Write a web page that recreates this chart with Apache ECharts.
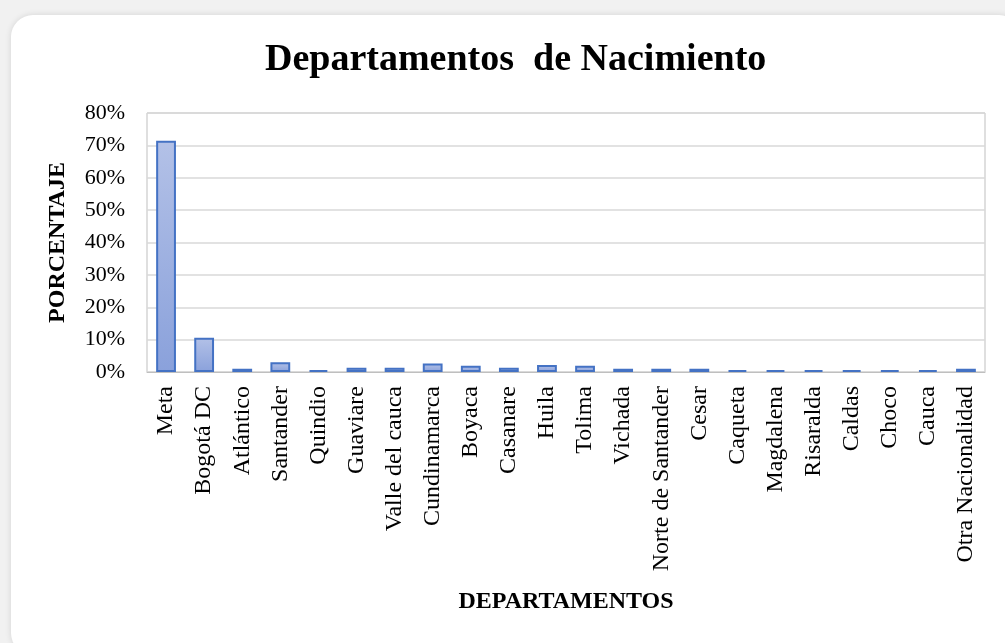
<!DOCTYPE html>
<html>
<head>
<meta charset="utf-8">
<title>Departamentos de Nacimiento</title>
<script src="https://cdn.jsdelivr.net/npm/echarts@6/dist/echarts.min.js"></script>
<style>
  html, body { margin: 0; padding: 0; background: #f1f1f1; }
  .card {
    position: absolute; left: 11px; top: 15px; width: 1010px; height: 640px;
    background: #fff; border-radius: 22px;
    box-shadow: 0 0 6px rgba(0, 0, 0, 0.12);
  }
  #chart { position: absolute; left: 0; top: 0; width: 1005px; height: 643px; }
</style>
</head>
<body>
<div class="card"></div>
<div id="chart"></div>
<script>
// departamentos y porcentaje de nacimiento
const departamentos = [
  'Meta', 'Bogotá DC', 'Atlántico', 'Santander', 'Quindio', 'Guaviare',
  'Valle del cauca', 'Cundinamarca', 'Boyaca', 'Casanare', 'Huila', 'Tolima',
  'Vichada', 'Norte de Santander', 'Cesar', 'Caqueta', 'Magdalena', 'Risaralda',
  'Caldas', 'Choco', 'Cauca', 'Otra Nacionalidad'
];
const porcentajes = [
  71.4, 10.6, 1.0, 3.0, 0.6, 1.3,
  1.3, 2.6, 1.9, 1.3, 2.2, 1.9,
  1.0, 1.0, 1.0, 0.6, 0.6, 0.6,
  0.6, 0.6, 0.6, 1.0
];
const yTicks = [0, 10, 20, 30, 40, 50, 60, 70, 80];

const serif = '"Liberation Serif", "Times New Roman", serif';
const chart = echarts.init(document.getElementById('chart'));

chart.setOption({
  backgroundColor: 'transparent',
  title: {
    text: 'Departamentos  de Nacimiento',
    left: 260,
    top: 36,
    textStyle: { fontFamily: serif, fontSize: 38, fontWeight: 'bold', color: '#000' }
  },
  grid: { left: 147, right: 20, top: 113, bottom: 271, show: true, borderColor: '#bfbfbf', borderWidth: 1 },
  xAxis: {
    type: 'category',
    data: departamentos,
    name: 'DEPARTAMENTOS',
    nameLocation: 'middle',
    nameGap: 218,
    nameTextStyle: { fontFamily: serif, fontSize: 24, fontWeight: 'bold', color: '#000' },
    axisLine: { lineStyle: { color: '#bfbfbf' } },
    axisTick: { show: false },
    axisLabel: { rotate: 90, interval: 0, margin: 14, fontFamily: serif, fontSize: 24, color: '#000' }
  },
  yAxis: {
    type: 'value',
    min: yTicks[0],
    max: yTicks[yTicks.length - 1],
    interval: 10,
    name: 'PORCENTAJE',
    nameLocation: 'middle',
    nameRotate: 90,
    nameGap: 77,
    nameTextStyle: { fontFamily: serif, fontSize: 24, fontWeight: 'bold', color: '#000' },
    axisLine: { show: false },
    axisTick: { show: false },
    splitLine: { lineStyle: { color: '#d9d9d9', width: 1.5 } },
    axisLabel: { margin: 22, fontFamily: serif, fontSize: 22, color: '#000', formatter: '{value}%' }
  },
  series: [{
    type: 'bar',
    data: porcentajes,
    barCategoryGap: '48%',
    itemStyle: {
      borderColor: '#4472c4',
      borderWidth: 2,
      color: new echarts.graphic.LinearGradient(0, 0, 0, 1, [
        { offset: 0, color: '#b3c1e7' },
        { offset: 1, color: '#8aa1db' }
      ])
    }
  }]
});
</script>
</body>
</html>
